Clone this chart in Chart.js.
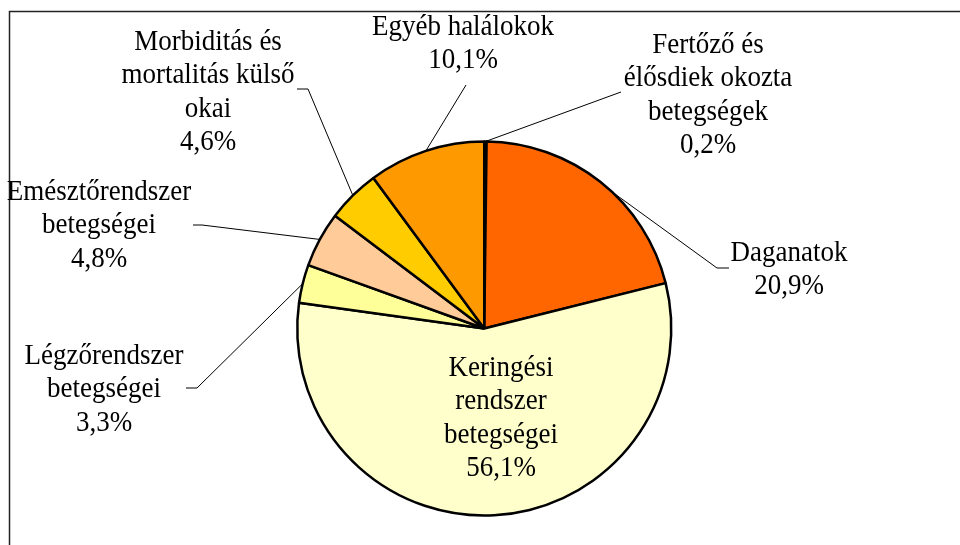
<!DOCTYPE html>
<html>
<head>
<meta charset="utf-8">
<script src="https://cdn.jsdelivr.net/npm/chart.js@4.4.1/dist/chart.umd.min.js"></script>
<style>
  html, body { margin: 0; padding: 0; background: #fff; }
  #wrap { width: 960px; height: 545px; position: relative; }
</style>
</head>
<body>
<div id="wrap"><canvas id="pieChart" width="960" height="545"></canvas></div>
<script>
// categories, clockwise from 12 o'clock
var categories = [
    ['Fertőző és', 'élősdiek okozta', 'betegségek'],
    ['Daganatok'],
    ['Keringési', 'rendszer', 'betegségei'],
    ['Légzőrendszer', 'betegségei'],
    ['Emésztőrendszer', 'betegségei'],
    ['Morbiditás és', 'mortalitás külső', 'okai'],
    ['Egyéb halálokok']
];
var shares = [0.2, 20.9, 56.1, 3.3, 4.8, 4.6, 10.1];
var shareLabels = ['0,2%', '20,9%', '56,1%', '3,3%', '4,8%', '4,6%', '10,1%'];

var sliceColors = ['#993300', '#FF6600', '#FFFFCC', '#FFFF99', '#FFCC99', '#FFCC00', '#FF9900'];

// where each label sits and how its leader line runs (null = label inside the slice)
var labelLayout = [
    { x: 708, y: 45, frac: 0.5, leader: [[621, 92]] },
    { x: 789, y: 253, frac: 0.56, leader: [[717, 268], [729, 268]] },
    { x: 501, y: 368, frac: 0.5, leader: null },
    { x: 104, y: 356, frac: 0.5, leader: [[197, 388], [186, 388]] },
    { x: 99, y: 192, frac: 0.5, leader: [[202, 225], [193, 225]] },
    { x: 208, y: 42, frac: 0.5, leader: [[308, 89], [297, 89]] },
    { x: 463, y: 27, frac: 0.5, leader: [[466, 85]] }
];
var lineGap = 33.5;

var framePlugin = {
    id: 'frame',
    beforeDraw: function (chart) {
        var c = chart.ctx;
        c.save();
        c.strokeStyle = '#222';
        c.lineWidth = 1.5;
        c.beginPath();
        c.moveTo(9.5, 545);
        c.lineTo(9.5, 11.5);
        c.lineTo(960, 11.5);
        c.stroke();
        c.restore();
    }
};

var labelPlugin = {
    id: 'pieLabels',
    afterDraw: function (chart) {
        var c = chart.ctx;
        var arcs = chart.getDatasetMeta(0).data;
        c.save();
        c.fillStyle = '#000';
        c.strokeStyle = '#000';
        c.lineWidth = 1;
        c.font = '27px "Liberation Serif", "Times New Roman", serif';
        c.textAlign = 'center';
        c.textBaseline = 'middle';
        labelLayout.forEach(function (lay, i) {
            var lines = categories[i].concat([shareLabels[i]]);
            lines.forEach(function (t, k) {
                // the original text is slightly taller than plain Times
                c.save();
                c.translate(lay.x, lay.y + k * lineGap);
                c.scale(1, 1.1);
                c.fillText(t, 0, 0);
                c.restore();
            });
            if (lay.leader) {
                var p = arcs[i].getProps(['x', 'y', 'startAngle', 'endAngle', 'outerRadius'], true);
                var a = p.startAngle + lay.frac * (p.endAngle - p.startAngle);
                c.beginPath();
                c.moveTo(p.x + Math.cos(a) * p.outerRadius, p.y + Math.sin(a) * p.outerRadius);
                lay.leader.forEach(function (pt) { c.lineTo(pt[0], pt[1]); });
                c.stroke();
            }
        });
        c.restore();
    }
};

new Chart(document.getElementById('pieChart').getContext('2d'), {
    type: 'pie',
    data: {
        labels: categories.map(function (l) { return l.join(' '); }),
        datasets: [{
            data: shares,
            backgroundColor: sliceColors,
            borderColor: '#000',
            borderWidth: 2.5
        }]
    },
    options: {
        responsive: false,
        animation: false,
        layout: { padding: { left: 296, right: 287.5, top: 140.25, bottom: 28.25 } },
        plugins: {
            legend: { display: false },
            tooltip: { enabled: false }
        }
    },
    plugins: [framePlugin, labelPlugin]
});
</script>
</body>
</html>
